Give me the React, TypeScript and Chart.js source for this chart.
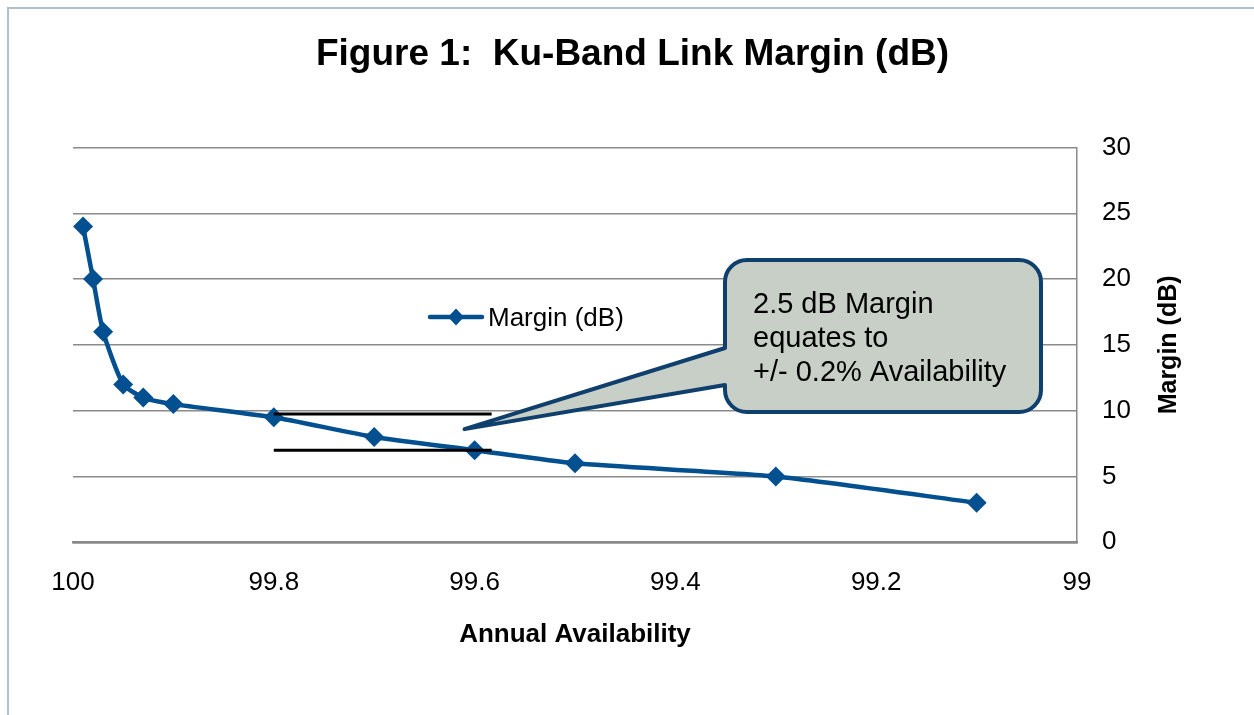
import { useEffect, useRef } from 'react';
import { Chart, registerables } from 'chart.js';

Chart.register(...registerables);

const FONT = '"Liberation Sans", Arial, Helvetica, sans-serif';

const CHART_TITLE = 'Figure 1:  Ku-Band Link Margin (dB)';
const X_TITLE = 'Annual Availability';
const Y_TITLE = 'Margin (dB)';
const SERIES_LABEL = 'Margin (dB)';

const AVAILABILITY = [99.99, 99.98, 99.97, 99.95, 99.93, 99.9, 99.8, 99.7, 99.6, 99.5, 99.3, 99.1];
const MARGIN_DB = [24, 20, 16, 12, 11, 10.5, 9.5, 8, 7, 6, 5, 3];

const X_TICKS = [100, 99.8, 99.6, 99.4, 99.2, 99];
const X_TICK_LABELS = ['100', '99.8', '99.6', '99.4', '99.2', '99'];
const Y_MIN = 0;
const Y_MAX = 30;
const Y_STEP = 5;

const REF_UPPER_X = [99.8, 99.583];
const REF_UPPER_Y = [9.75, 9.75];
const REF_LOWER_X = [99.8, 99.583];
const REF_LOWER_Y = [7, 7];

const CALLOUT_LINES = ['2.5 dB Margin', 'equates to', '+/- 0.2% Availability'];
const CALLOUT_TIP_X = 99.61;
const CALLOUT_TIP_Y = 8.6;

const SERIES_COLOR = '#02508F';
const GRID_COLOR = '#8A8A8A';

const decorPlugin = {
  id: 'decor',
  beforeDraw(chart: any) {
    const { ctx, width, height } = chart;
    ctx.save();
    ctx.fillStyle = '#ffffff';
    ctx.fillRect(0, 0, width, height);
    ctx.strokeStyle = '#AEC0CA';
    ctx.lineWidth = 2;
    ctx.strokeRect(8, 8, width + 40, height + 40);
    ctx.restore();
  },
  afterDatasetsDraw(chart: any) {
    const { ctx } = chart;
    const xs = chart.scales.x;
    const ys = chart.scales.y;
    // callout
    const x1 = 725, y1 = 260, x2 = 1041, y2 = 412, r = 22;
    const tx = xs.getPixelForValue(CALLOUT_TIP_X);
    const ty = ys.getPixelForValue(CALLOUT_TIP_Y);
    ctx.save();
    ctx.beginPath();
    ctx.moveTo(x1 + r, y1);
    ctx.lineTo(x2 - r, y1);
    ctx.arcTo(x2, y1, x2, y1 + r, r);
    ctx.lineTo(x2, y2 - r);
    ctx.arcTo(x2, y2, x2 - r, y2, r);
    ctx.lineTo(x1 + r, y2);
    ctx.arcTo(x1, y2, x1, y2 - r, r);
    ctx.lineTo(x1, 385);
    ctx.lineTo(tx, ty);
    ctx.lineTo(x1, 348);
    ctx.lineTo(x1, y1 + r);
    ctx.arcTo(x1, y1, x1 + r, y1, r);
    ctx.closePath();
    ctx.fillStyle = '#C8CFC7';
    ctx.fill();
    ctx.lineWidth = 4;
    ctx.lineJoin = 'round';
    ctx.strokeStyle = '#0F3F6C';
    ctx.stroke();
    ctx.fillStyle = '#000';
    ctx.font = `29px ${FONT}`;
    ctx.textAlign = 'left';
    ctx.textBaseline = 'alphabetic';
    CALLOUT_LINES.forEach((line, i) => {
      ctx.fillText(line, 753, 313 + i * 34);
    });

    // legend
    const label = chart.data.datasets[0].label;
    ctx.strokeStyle = SERIES_COLOR;
    ctx.lineWidth = 4.5;
    ctx.lineCap = 'round';
    ctx.beginPath();
    ctx.moveTo(430, 317);
    ctx.lineTo(482, 317);
    ctx.stroke();
    ctx.fillStyle = SERIES_COLOR;
    ctx.beginPath();
    ctx.moveTo(456, 317 - 8.5);
    ctx.lineTo(456 + 8, 317);
    ctx.lineTo(456, 317 + 8.5);
    ctx.lineTo(456 - 8, 317);
    ctx.closePath();
    ctx.fill();
    ctx.fillStyle = '#000';
    ctx.font = `26px ${FONT}`;
    ctx.fillText(label, 488, 326);
    ctx.restore();
  },
  afterDraw(chart: any) {
    const { ctx } = chart;
    ctx.save();
    ctx.fillStyle = '#000';
    ctx.font = `bold 37px ${FONT}`;
    ctx.textAlign = 'center';
    ctx.textBaseline = 'alphabetic';
    ctx.fillText(CHART_TITLE, 632.5, 65);

    const xs = chart.scales.x;
    ctx.font = `bold 26px ${FONT}`;
    ctx.fillText(X_TITLE, (xs.left + xs.right) / 2, 642);

    const ys = chart.scales.y;
    ctx.translate(1169, (ys.top + ys.bottom) / 2);
    ctx.rotate(-Math.PI / 2);
    ctx.font = `bold 25px ${FONT}`;
    ctx.textBaseline = 'middle';
    ctx.fillText(Y_TITLE, 0, 0);
    ctx.restore();
  },
};

export default function App() {
  const canvasRef = useRef<HTMLCanvasElement | null>(null);

  useEffect(() => {
    const canvas = canvasRef.current;
    if (!canvas) return;
    const chart = new Chart(canvas, {
      type: 'line',
      data: {
        datasets: [
          {
            label: SERIES_LABEL,
            data: AVAILABILITY.map((x, i) => ({ x, y: MARGIN_DB[i] })),
            borderColor: SERIES_COLOR,
            backgroundColor: SERIES_COLOR,
            borderWidth: 4.5,
            pointStyle: 'rectRot',
            pointRadius: 10,
            pointBorderWidth: 0,
            pointBackgroundColor: SERIES_COLOR,
            tension: 0.2,
            order: 1,
          },
          {
            label: 'upper',
            data: REF_UPPER_X.map((x, i) => ({ x, y: REF_UPPER_Y[i] })),
            borderColor: '#000',
            borderWidth: 3,
            pointRadius: 0,
            tension: 0,
            order: 0,
          },
          {
            label: 'lower',
            data: REF_LOWER_X.map((x, i) => ({ x, y: REF_LOWER_Y[i] })),
            borderColor: '#000',
            borderWidth: 3,
            pointRadius: 0,
            tension: 0,
            order: 0,
          },
        ],
      },
      options: {
        responsive: false,
        animation: false,
        devicePixelRatio: 1,
        layout: { padding: { left: 73, top: 147.5, right: 0, bottom: 0 } },
        plugins: {
          legend: { display: false },
          title: { display: false },
          tooltip: { enabled: false },
        },
        scales: {
          x: {
            type: 'linear',
            position: 'bottom',
            min: 99,
            max: 100,
            reverse: true,
            afterBuildTicks: (scale: any) => {
              scale.ticks = X_TICKS.map((value) => ({ value }));
            },
            afterFit: (scale: any) => {
              scale.height = 715 - 542.3;
            },
            ticks: {
              autoSkip: false,
              maxRotation: 0,
              padding: 25,
              color: '#000',
              font: { family: FONT, size: 26 },
              callback: (v: any) => {
                const i = X_TICKS.indexOf(v);
                return i >= 0 ? X_TICK_LABELS[i] : String(v);
              },
            },
            grid: { display: false, drawTicks: false },
            border: { display: true, color: GRID_COLOR, width: 2.5 },
            title: { display: false },
          },
          y: {
            type: 'linear',
            position: 'right',
            min: Y_MIN,
            max: Y_MAX,
            afterFit: (scale: any) => {
              scale.width = 177;
            },
            ticks: {
              stepSize: Y_STEP,
              padding: 25,
              color: '#000',
              font: { family: FONT, size: 26 },
            },
            grid: { display: true, color: GRID_COLOR, lineWidth: 1.5, drawTicks: false },
            border: { display: true, color: GRID_COLOR, width: 1.5 },
            title: { display: false },
          },
        },
      },
      plugins: [decorPlugin],
    });
    return () => chart.destroy();
  }, []);

  return (
    <div style={{ position: 'absolute', left: 0, top: 0, width: 1254, height: 715 }}>
      <canvas ref={canvasRef} width={1254} height={715} />
    </div>
  );
}
